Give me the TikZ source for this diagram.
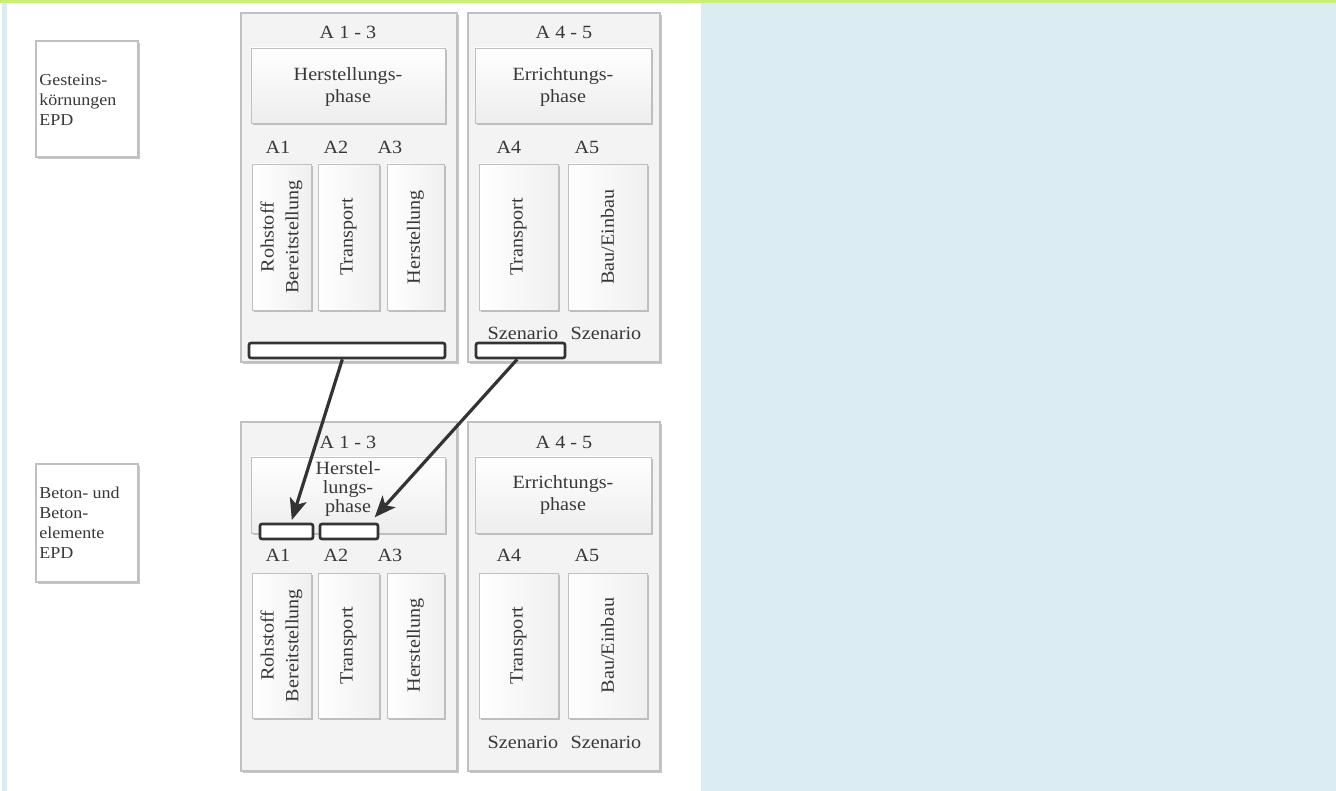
\documentclass[tikz,border=0pt]{standalone}
\usepackage{fontspec}
\setmainfont{Liberation Serif}[FakeStretch=1.08]
\usetikzlibrary{fit,shadows,arrows.meta,calc}
\definecolor{txtc}{HTML}{383838}
\definecolor{bgblue}{HTML}{DBEDF3}
\definecolor{topgreen}{HTML}{C8F26A}
\definecolor{boxline}{HTML}{C0C0C0}
\definecolor{boxfill}{HTML}{F3F3F3}
\definecolor{barline}{HTML}{333333}
\tikzset{
  shad/.style={drop shadow={shadow xshift=1.2pt,shadow yshift=-1.2pt,opacity=0.22,fill=black}},
  outerbox/.style={draw=boxline,line width=0.8pt,fill=boxfill,inner sep=0pt,shad},
  epdbox/.style={draw=boxline,line width=0.8pt,fill=white,inner sep=0pt,shad},
  phasebox/.style={draw=boxline,line width=0.7pt,top color=white,bottom color=black!7,inner sep=0pt,shad},
  tallbox/.style={draw=boxline,line width=0.7pt,left color=white,right color=black!6,inner sep=0pt,shad},
  barbox/.style={draw=barline,line width=2pt,fill=white,rounded corners=1.5pt,inner sep=0pt},
  txt/.style={text=txtc,font=\fontsize{14}{16.5}\selectfont,inner sep=0pt,align=center},
  small/.style={text=txtc,font=\fontsize{12.5}{15}\selectfont,inner sep=0pt,align=left,anchor=west},
  vtxt/.style={txt,rotate=90,font=\fontsize{14}{18.5}\selectfont},
  arr/.style={draw=barline,line width=2.4pt,-{Stealth[length=16pt,width=13pt,inset=4pt]}}
}
\begin{document}
\begin{tikzpicture}[x=0.75pt,y=-0.75pt]
\useasboundingbox (0,0) rectangle (1336,791);
\fill[white] (0,0) rectangle (1336,791);
\fill[bgblue] (701,2) rectangle (1336,791);
\fill[bgblue] (2,2) rectangle (6.5,791);
\fill[topgreen] (0,0) rectangle (1336,2.6);

% ---------- left EPD labels ----------
\node[epdbox,fit={(36,41)(138,157)}] (epd1) {};
\node[small] (epd1t) at (39,100) {Gesteins-\\körnungen\\EPD};
\node[epdbox,fit={(36,464)(138,582)}] (epd2) {};
\node[small] (epd2t) at (39,523) {Beton- und\\Beton-\\elemente\\EPD};

% ---------- top row ----------
\node[outerbox,fit={(241,13)(457,362)}] (tA13) {};
\node[outerbox,fit={(468,13)(660,362)}] (tA45) {};
\node[txt] (tA13t) at (348,32) {A 1 - 3};
\node[txt] (tA45t) at (564,32) {A 4 - 5};
\node[phasebox,fit={(251,48)(445,123)}] (tHP) {};
\node[txt] (tHPt) at (348,87) {Herstellungs-\\phase};
\node[phasebox,fit={(475,48)(651,123)}] (tEP) {};
\node[txt] (tEPt) at (563,87) {Errichtungs-\\phase};
\node[txt] (tl1) at (278,147) {A1};
\node[txt] (tl2) at (336,147) {A2};
\node[txt] (tl3) at (390,147) {A3};
\node[txt] (tl4) at (509,147) {A4};
\node[txt] (tl5) at (587,147) {A5};
\node[tallbox,fit={(252,164)(311,310)}] (tb1) {};
\node[tallbox,fit={(318,164)(379,310)}] (tb2) {};
\node[tallbox,fit={(387,164)(444,310)}] (tb3) {};
\node[tallbox,fit={(479,164)(558,310)}] (tb4) {};
\node[tallbox,fit={(568,164)(647,310)}] (tb5) {};
\node[vtxt] (tb1t) at (tb1.center) {Rohstoff\\Bereitstellung};
\node[vtxt] (tb2t) at (tb2.center) {Transport};
\node[vtxt] (tb3t) at (tb3.center) {Herstellung};
\node[vtxt] (tb4t) at (tb4.center) {Transport};
\node[vtxt] (tb5t) at (tb5.center) {Bau/Einbau};
\node[txt] (tsz1) at (523,333) {Szenario};
\node[txt] (tsz2) at (606,333) {Szenario};
\node[barbox,fit={(249,343)(445,358)}] (barW) {};
\node[barbox,fit={(476,343)(565,358)}] (barS) {};

% ---------- bottom row ----------
\node[outerbox,fit={(241,422)(457,771)}] (bA13) {};
\node[outerbox,fit={(468,422)(660,771)}] (bA45) {};
\node[txt] (bA13t) at (348,442) {A 1 - 3};
\node[txt] (bA45t) at (564,442) {A 4 - 5};
\node[phasebox,fit={(251,457)(445,533)}] (bHP) {};
\node[txt,font=\fontsize{14}{14.6}\selectfont] (bHPt) at (348,489) {Herstel-\\lungs-\\phase};
\node[phasebox,fit={(475,457)(651,533)}] (bEP) {};
\node[txt] (bEPt) at (563,495) {Errichtungs-\\phase};
\node[barbox,fit={(260,524)(313,539)}] (bar1) {};
\node[barbox,fit={(320,524)(378,539)}] (bar2) {};
\node[txt] (bl1) at (278,555) {A1};
\node[txt] (bl2) at (336,555) {A2};
\node[txt] (bl3) at (390,555) {A3};
\node[txt] (bl4) at (509,555) {A4};
\node[txt] (bl5) at (587,555) {A5};
\node[tallbox,fit={(252,573)(311,718)}] (bb1) {};
\node[tallbox,fit={(318,573)(379,718)}] (bb2) {};
\node[tallbox,fit={(387,573)(444,718)}] (bb3) {};
\node[tallbox,fit={(479,573)(558,718)}] (bb4) {};
\node[tallbox,fit={(568,573)(647,718)}] (bb5) {};
\node[vtxt] (bb1t) at (bb1.center) {Rohstoff\\Bereitstellung};
\node[vtxt] (bb2t) at (bb2.center) {Transport};
\node[vtxt] (bb3t) at (bb3.center) {Herstellung};
\node[vtxt] (bb4t) at (bb4.center) {Transport};
\node[vtxt] (bb5t) at (bb5.center) {Bau/Einbau};
\node[txt] (bsz1) at (523,742) {Szenario};
\node[txt] (bsz2) at (606,742) {Szenario};

% ---------- arrows ----------
\draw[arr] ([xshift=-3.5pt]barW.south) -- ([xshift=4pt,yshift=2pt]bar1.north);
\draw[arr] ([xshift=-2.5pt]barS.south) -- ([xshift=-3.5pt,yshift=4pt]bar2.north east);
\end{tikzpicture}
\end{document}
